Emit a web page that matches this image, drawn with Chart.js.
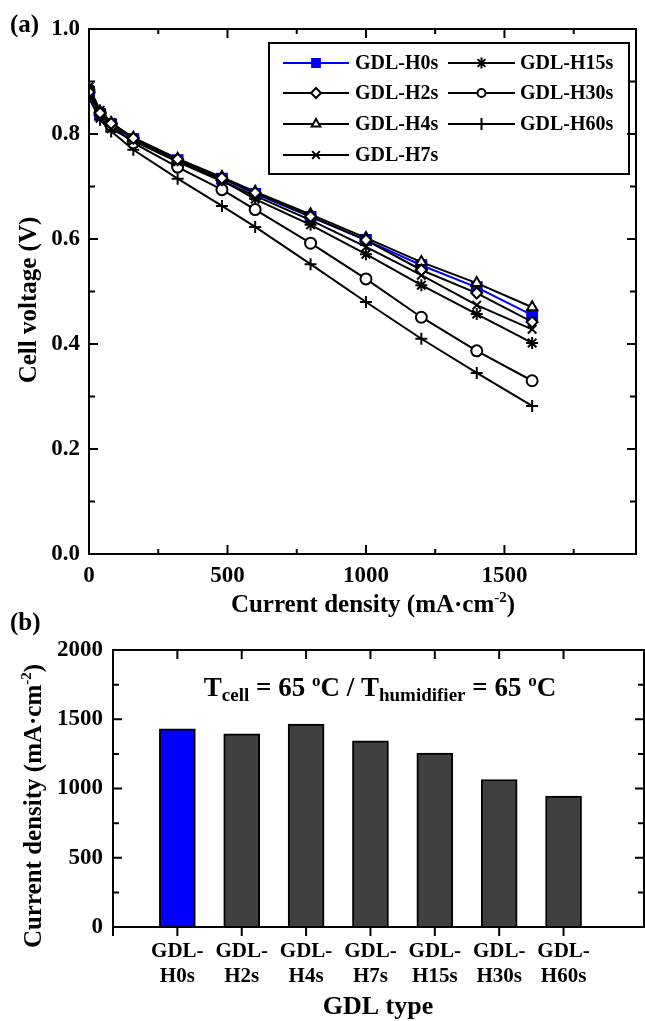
<!DOCTYPE html>
<html>
<head>
<meta charset="utf-8">
<script src="https://cdn.jsdelivr.net/npm/chart.js@4.4.1/dist/chart.umd.min.js"></script>
<style>
  body { margin: 0; background: #fff; }
  #wrapA { position: absolute; left: 0; top: 0; width: 645px; height: 620px; }
  #wrapB { position: absolute; left: 0; top: 600px; width: 645px; height: 421px; }
</style>
</head>
<body>
<div id="wrapA"><canvas id="chartA" width="645" height="620"></canvas></div>
<div id="wrapB"><canvas id="chartB" width="645" height="421"></canvas></div>
<script>
// ---- data (a): polarization curves
const currentDensity = [0, 40, 80, 160, 320, 480, 600, 800, 1000, 1200, 1400, 1600];
const voltH0s  = [0.876, 0.838, 0.818, 0.790, 0.750, 0.715, 0.686, 0.642, 0.598, 0.550, 0.508, 0.455];
const voltH2s  = [0.880, 0.840, 0.820, 0.792, 0.752, 0.716, 0.688, 0.643, 0.598, 0.541, 0.497, 0.442];
const voltH4s  = [0.885, 0.842, 0.821, 0.793, 0.753, 0.718, 0.690, 0.647, 0.602, 0.556, 0.516, 0.470];
const voltH7s  = [0.868, 0.830, 0.810, 0.787, 0.747, 0.710, 0.682, 0.636, 0.585, 0.531, 0.474, 0.428];
const voltH15s = [0.890, 0.845, 0.822, 0.792, 0.750, 0.712, 0.676, 0.627, 0.571, 0.512, 0.457, 0.402];
const voltH30s = [0.884, 0.840, 0.817, 0.783, 0.737, 0.694, 0.656, 0.592, 0.524, 0.451, 0.387, 0.330];
const voltH60s = [0.870, 0.827, 0.805, 0.770, 0.715, 0.663, 0.623, 0.552, 0.480, 0.410, 0.345, 0.282];

// ---- data (b): limiting current density per GDL
const gdlTypes = ["GDL-H0s", "GDL-H2s", "GDL-H4s", "GDL-H7s", "GDL-H15s", "GDL-H30s", "GDL-H60s"];
const maxCurrent = [1430, 1395, 1465, 1345, 1255, 1065, 945];

// tick labels
const xTicksA = [0, 500, 1000, 1500];
const yTicksA = [0, 0.2, 0.4, 0.6, 0.8, 1.0];
const xTicksB = [1, 2, 3, 4, 5, 6, 7];
const yTicksB = [0, 500, 1000, 1500, 2000];

const SERIF = '"Liberation Serif", "Times New Roman", serif';
const el = (id) => document.getElementById(id);

const SERIES = [
  { name: "GDL-H0s",  v: voltH0s,  color: "#0000ff", fill: "#0000ff", style: "rect",     r: 7,   lr: 5.5 },
  { name: "GDL-H2s",  v: voltH2s,  color: "#000",    fill: "#fff",    style: "rectRot",  r: 5.5, lr: 5 },
  { name: "GDL-H4s",  v: voltH4s,  color: "#000",    fill: "#fff",    style: "triangle", r: 6,   lr: 5 },
  { name: "GDL-H7s",  v: voltH7s,  color: "#000",    fill: "#fff",    style: "crossRot", r: 6,   lr: 5.5 },
  { name: "GDL-H15s", v: voltH15s, color: "#000",    fill: "#fff",    style: "star",     r: 6,   lr: 5.5 },
  { name: "GDL-H30s", v: voltH30s, color: "#000",    fill: "#fff",    style: "circle",   r: 5.5, lr: 4 },
  { name: "GDL-H60s", v: voltH60s, color: "#000",    fill: "#fff",    style: "cross",    r: 6,   lr: 6 }
];

// text with sub/superscripts: parts = [text, size, dy]
function drawRich(ctx, parts, x, y, align) {
  let w = 0;
  parts.forEach(p => { ctx.font = `bold ${p[1]}px ${SERIF}`; w += ctx.measureText(p[0]).width; });
  let cx = align === "center" ? x - w / 2 : x;
  ctx.textAlign = "left";
  ctx.textBaseline = "alphabetic";
  parts.forEach(p => {
    ctx.font = `bold ${p[1]}px ${SERIF}`;
    ctx.fillText(p[0], cx, y + (p[2] || 0));
    cx += ctx.measureText(p[0]).width;
  });
}

function drawFrame(chart, xt, yt, xOut) {
  const { ctx, chartArea: a, scales: { x, y } } = chart;
  ctx.save();
  ctx.strokeStyle = "#000";
  ctx.lineWidth = 2;
  ctx.strokeRect(a.left, a.top, a.right - a.left, a.bottom - a.top);
  ctx.beginPath();
  xt.forEach(([v, len]) => {
    const px = x.getPixelForValue(v);
    ctx.moveTo(px, a.bottom); ctx.lineTo(px, a.bottom + (xOut ? len : -len));
    ctx.moveTo(px, a.top); ctx.lineTo(px, a.top + len);
  });
  yt.forEach(([v, len]) => {
    const py = y.getPixelForValue(v);
    ctx.moveTo(a.left, py); ctx.lineTo(a.left + len, py);
    ctx.moveTo(a.right, py); ctx.lineTo(a.right - len, py);
  });
  ctx.stroke();
  ctx.restore();
}

const decorA = {
  id: "decorA",
  afterDraw(chart) {
    const ctx = chart.ctx;
    const xt = [], yt = [];
    for (let v = 0; v <= 1750; v += 250) xt.push([v, v % 500 === 0 ? 9 : 5]);
    for (let i = 0; i <= 10; i++) yt.push([i / 10, i % 2 === 0 ? 9 : 6]);
    drawFrame(chart, xt, yt, false);

    ctx.save();
    ctx.fillStyle = "#000";
    // panel label
    ctx.font = `bold 25px ${SERIF}`;
    ctx.textAlign = "left";
    ctx.textBaseline = "alphabetic";
    ctx.fillText("(a)", 10, 32);
    // axis titles
    drawRich(ctx, [["Current density (mA\u00b7cm", 25], ["-2", 15, -10], [")", 25]], 373, 612, "center");
    ctx.save();
    ctx.translate(36, 300);
    ctx.rotate(-Math.PI / 2);
    drawRich(ctx, [["Cell voltage (V)", 25]], 0, 0, "center");
    ctx.restore();

    // legend
    ctx.lineWidth = 2;
    ctx.strokeStyle = "#000";
    ctx.strokeRect(269, 43, 360, 131);
    const rows = [63, 93, 124, 155];
    const cols = [[283, 349, 355], [448, 515, 520]];
    SERIES.forEach((s, i) => {
      const c = i < 4 ? cols[0] : cols[1];
      const yy = rows[i < 4 ? i : i - 4];
      ctx.strokeStyle = s.color;
      ctx.lineWidth = 2;
      ctx.beginPath(); ctx.moveTo(c[0], yy); ctx.lineTo(c[1], yy); ctx.stroke();
      ctx.fillStyle = s.fill;
      Chart.helpers.drawPoint(ctx, { pointStyle: s.style, radius: s.lr, borderWidth: 2, rotation: 0 }, (c[0] + c[1]) / 2, yy);
      ctx.fillStyle = "#000";
      ctx.font = `bold 20px ${SERIF}`;
      ctx.textBaseline = "middle";
      ctx.textAlign = "left";
      ctx.fillText(s.name, c[2], yy + 1);
    });
    ctx.restore();
  }
};

const decorB = {
  id: "decorB",
  afterDraw(chart) {
    const ctx = chart.ctx;
    const xt = [], yt = [];
    for (let v = 0; v <= 7; v++) xt.push([v, 9]);
    for (let v = 0; v <= 2000; v += 250) yt.push([v, v % 500 === 0 ? 9 : 6]);
    drawFrame(chart, xt, yt, true);

    ctx.save();
    ctx.fillStyle = "#000";
    ctx.font = `bold 25px ${SERIF}`;
    ctx.textAlign = "left";
    ctx.textBaseline = "alphabetic";
    ctx.fillText("(b)", 10, 30);
    drawRich(ctx, [["GDL type", 26]], 378, 414, "center");
    ctx.save();
    ctx.translate(41, 206);
    ctx.rotate(-Math.PI / 2);
    drawRich(ctx, [["Current density (mA\u00b7cm", 25], ["-2", 15, -10], [")", 25]], 0, 0, "center");
    ctx.restore();
    drawRich(ctx, [
      ["T", 27], ["cell", 19, 5], [" = 65 ", 27], ["o", 17, -10], ["C / T", 27],
      ["humidifier", 19, 5], [" = 65 ", 27], ["o", 17, -10], ["C", 27]
    ], 380, 96, "center");
    ctx.restore();
  }
};

const tickFont = { family: SERIF, size: 23, weight: "bold" };
const fixTicks = (vals) => (s) => { s.ticks = vals.map(v => ({ value: v })); };

new Chart(el("chartA"), {
  type: "line",
  data: {
    datasets: SERIES.map((s, i) => ({
      label: s.name,
      data: currentDensity.map((x, k) => ({ x, y: s.v[k] })),
      borderColor: s.color,
      backgroundColor: s.fill,
      pointBackgroundColor: s.fill,
      pointBorderColor: s.color,
      pointStyle: s.style,
      pointRadius: s.r,
      pointBorderWidth: 2,
      borderWidth: 2,
      tension: 0,
      order: i === 0 ? 1 : 0
    }))
  },
  options: {
    responsive: false,
    animation: false,
    layout: { padding: { left: 0, right: 1, top: 29, bottom: 0 } },
    plugins: { legend: { display: false }, tooltip: { enabled: false } },
    scales: {
      x: {
        type: "linear", min: 0, max: 1975,
        grid: { display: false, drawTicks: false }, border: { display: false },
        ticks: {
          autoSkip: false, maxRotation: 0, padding: 8,
          color: "#000", font: tickFont,
          callback: v => String(v)
        },
        afterBuildTicks: fixTicks(xTicksA),
        afterFit: s => { s.height = 66; }
      },
      y: {
        min: 0, max: 1.0,
        grid: { display: false, drawTicks: false }, border: { display: false },
        ticks: {
          autoSkip: false, padding: 9,
          color: "#000", font: tickFont,
          callback: v => v.toFixed(1)
        },
        afterBuildTicks: fixTicks(yTicksA),
        afterFit: s => { s.width = 89; }
      }
    }
  },
  plugins: [decorA]
});

new Chart(el("chartB"), {
  type: "bar",
  data: {
    datasets: [{
      data: maxCurrent.map((v, i) => ({ x: xTicksB[i], y: v })),
      backgroundColor: maxCurrent.map((v, i) => (i === 0 ? "#0000ff" : "#404040")),
      borderColor: "#000",
      borderWidth: 2,
      barThickness: 36
    }]
  },
  options: {
    responsive: false,
    animation: false,
    layout: { padding: { left: 0, right: 1, top: 50, bottom: 0 } },
    plugins: { legend: { display: false }, tooltip: { enabled: false } },
    scales: {
      x: {
        type: "linear", min: 0, max: 8.25, offset: false,
        grid: { display: false, drawTicks: false }, border: { display: false },
        ticks: {
          autoSkip: false, maxRotation: 0, padding: 12,
          color: "#000", font: { family: SERIF, size: 21, weight: "bold", lineHeight: 1.2 },
          callback: v => {
            const n = gdlTypes[xTicksB.indexOf(v)];
            return n ? ["GDL-", n.slice(4)] : "";
          }
        },
        afterBuildTicks: fixTicks(xTicksB),
        afterFit: s => { s.height = 94; }
      },
      y: {
        min: 0, max: 2000,
        grid: { display: false, drawTicks: false }, border: { display: false },
        ticks: {
          autoSkip: false, padding: 10,
          color: "#000", font: tickFont,
          callback: v => String(v)
        },
        afterBuildTicks: fixTicks(yTicksB),
        afterFit: s => { s.width = 113; }
      }
    }
  },
  plugins: [decorB]
});
</script>
</body>
</html>
